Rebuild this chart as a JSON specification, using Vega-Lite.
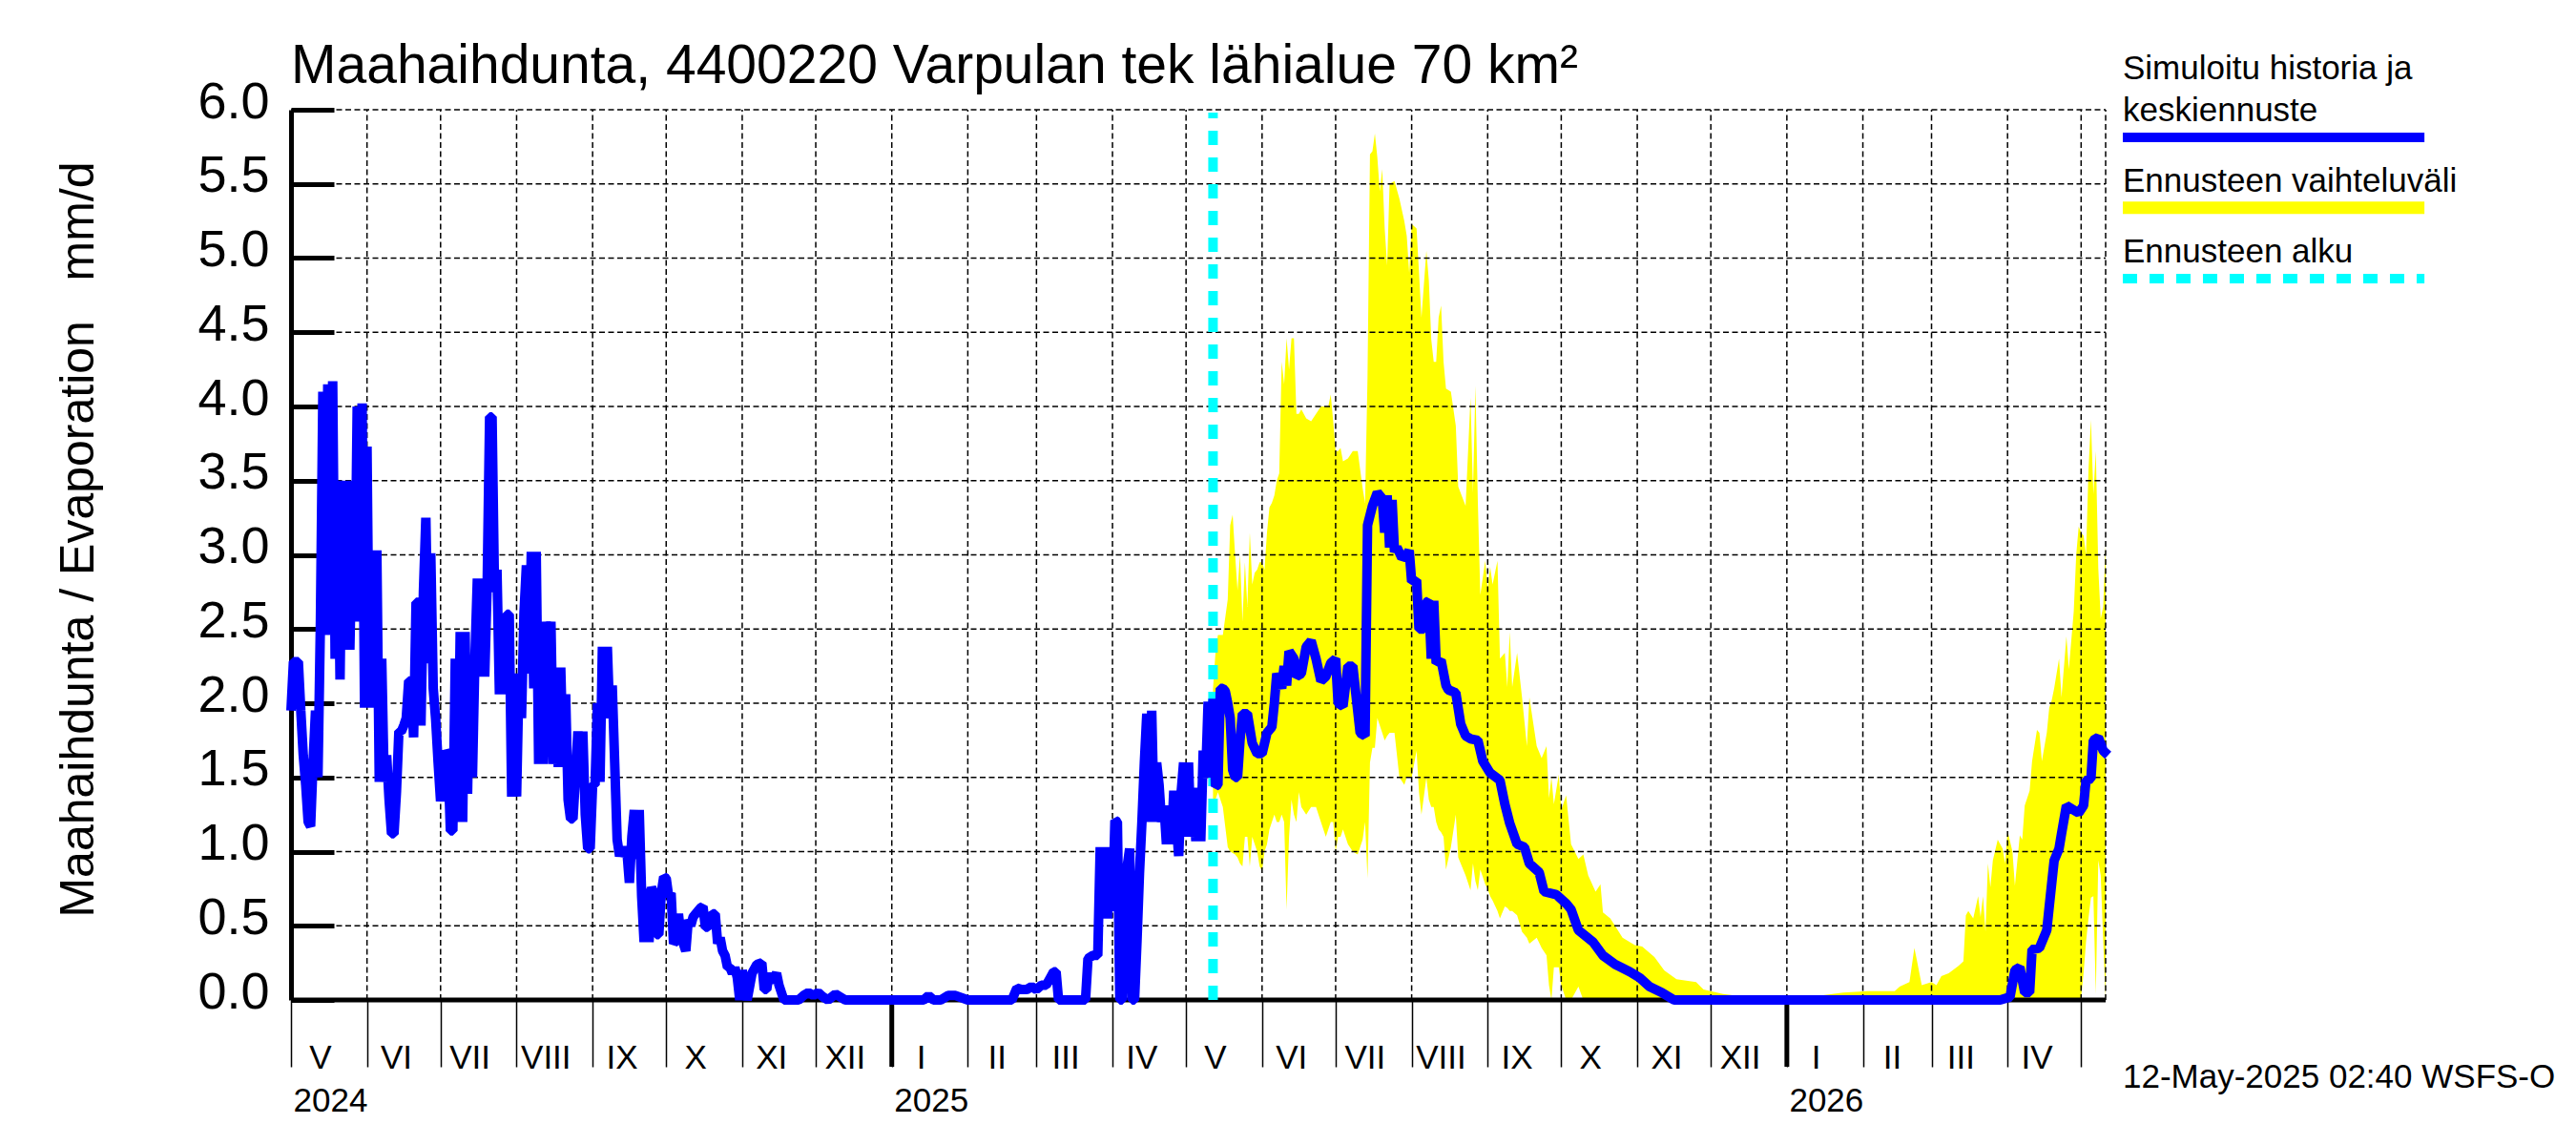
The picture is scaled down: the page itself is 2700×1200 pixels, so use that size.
{
  "$schema": "https://vega.github.io/schema/vega-lite/v6.json",
  "description": "Maahaihdunta, simulated history and forecast band with forecast start marker.",
  "width": 1902,
  "height": 933,
  "padding": {"left": 305, "top": 115, "right": 493, "bottom": 152},
  "autosize": {"type": "none"},
  "background": "white",
  "title": {
    "text": "Maahaihdunta, 4400220 Varpulan tek lähialue 70 km²",
    "anchor": "start",
    "frame": "group",
    "font": "Liberation Sans",
    "fontSize": 57,
    "fontWeight": "normal",
    "color": "black",
    "offset": -44
  },
  "config": {
    "view": {"stroke": null},
    "text": {"font": "Liberation Sans", "color": "black"}
  },
  "datasets": {
    "sim": [
      {"d":"2024-05-01","v":1.95},{"d":"2024-05-02","v":2.28},{"d":"2024-05-04","v":2.28},{"d":"2024-05-05","v":1.95},{"d":"2024-05-06","v":1.65},{"d":"2024-05-07","v":1.45},{"d":"2024-05-08","v":1.2},{"d":"2024-05-09","v":1.17},{"d":"2024-05-10","v":1.6},{"d":"2024-05-11","v":1.95},{"d":"2024-05-12","v":1.5},{"d":"2024-05-13","v":2.55},{"d":"2024-05-14","v":4.1},{"d":"2024-05-15","v":2.46},{"d":"2024-05-16","v":4.15},{"d":"2024-05-17","v":3.05},{"d":"2024-05-18","v":4.17},{"d":"2024-05-19","v":2.3},{"d":"2024-05-20","v":3.5},{"d":"2024-05-21","v":2.16},{"d":"2024-05-22","v":3.5},{"d":"2024-05-23","v":2.4},{"d":"2024-05-24","v":3.5},{"d":"2024-05-25","v":2.36},{"d":"2024-05-26","v":3.2},{"d":"2024-05-27","v":2.55},{"d":"2024-05-28","v":4.0},{"d":"2024-05-29","v":3.0},{"d":"2024-05-30","v":4.02},{"d":"2024-05-31","v":1.97},{"d":"2024-06-01","v":3.73},{"d":"2024-06-02","v":1.97},{"d":"2024-06-03","v":3.0},{"d":"2024-06-04","v":2.0},{"d":"2024-06-05","v":3.03},{"d":"2024-06-06","v":1.47},{"d":"2024-06-07","v":2.3},{"d":"2024-06-08","v":1.47},{"d":"2024-06-09","v":1.65},{"d":"2024-06-10","v":1.35},{"d":"2024-06-11","v":1.12},{"d":"2024-06-12","v":1.12},{"d":"2024-06-13","v":1.4},{"d":"2024-06-14","v":1.81},{"d":"2024-06-15","v":1.81},{"d":"2024-06-16","v":1.85},{"d":"2024-06-17","v":1.9},{"d":"2024-06-18","v":2.15},{"d":"2024-06-19","v":2.15},{"d":"2024-06-20","v":1.77},{"d":"2024-06-21","v":2.68},{"d":"2024-06-22","v":2.68},{"d":"2024-06-23","v":1.85},{"d":"2024-06-24","v":2.75},{"d":"2024-06-25","v":3.25},{"d":"2024-06-26","v":2.27},{"d":"2024-06-27","v":3.01},{"d":"2024-06-28","v":2.1},{"d":"2024-06-29","v":1.89},{"d":"2024-06-30","v":1.6},{"d":"2024-07-01","v":1.34},{"d":"2024-07-02","v":1.45},{"d":"2024-07-03","v":1.68},{"d":"2024-07-04","v":1.65},{"d":"2024-07-05","v":1.14},{"d":"2024-07-06","v":1.14},{"d":"2024-07-07","v":2.3},{"d":"2024-07-08","v":1.2},{"d":"2024-07-09","v":2.48},{"d":"2024-07-10","v":1.2},{"d":"2024-07-11","v":2.48},{"d":"2024-07-12","v":1.39},{"d":"2024-07-13","v":2.3},{"d":"2024-07-14","v":1.5},{"d":"2024-07-15","v":2.3},{"d":"2024-07-16","v":2.84},{"d":"2024-07-17","v":2.18},{"d":"2024-07-18","v":2.84},{"d":"2024-07-19","v":2.18},{"d":"2024-07-20","v":2.8},{"d":"2024-07-21","v":3.93},{"d":"2024-07-22","v":3.93},{"d":"2024-07-23","v":2.75},{"d":"2024-07-24","v":2.9},{"d":"2024-07-25","v":2.06},{"d":"2024-07-26","v":2.5},{"d":"2024-07-27","v":2.06},{"d":"2024-07-28","v":2.6},{"d":"2024-07-29","v":2.6},{"d":"2024-07-30","v":1.37},{"d":"2024-07-31","v":2.2},{"d":"2024-08-01","v":1.37},{"d":"2024-08-02","v":2.2},{"d":"2024-08-03","v":1.9},{"d":"2024-08-04","v":2.6},{"d":"2024-08-05","v":2.93},{"d":"2024-08-06","v":2.2},{"d":"2024-08-07","v":3.02},{"d":"2024-08-08","v":2.1},{"d":"2024-08-09","v":3.02},{"d":"2024-08-10","v":1.59},{"d":"2024-08-11","v":2.5},{"d":"2024-08-12","v":1.59},{"d":"2024-08-13","v":2.55},{"d":"2024-08-14","v":2.2},{"d":"2024-08-15","v":2.55},{"d":"2024-08-16","v":1.59},{"d":"2024-08-17","v":2.24},{"d":"2024-08-18","v":1.57},{"d":"2024-08-19","v":2.24},{"d":"2024-08-20","v":1.6},{"d":"2024-08-21","v":2.06},{"d":"2024-08-22","v":1.35},{"d":"2024-08-23","v":1.22},{"d":"2024-08-24","v":1.22},{"d":"2024-08-25","v":1.5},{"d":"2024-08-26","v":1.81},{"d":"2024-08-27","v":1.5},{"d":"2024-08-28","v":1.81},{"d":"2024-08-29","v":1.25},{"d":"2024-08-30","v":1.02},{"d":"2024-08-31","v":1.02},{"d":"2024-09-01","v":1.45},{"d":"2024-09-02","v":1.45},{"d":"2024-09-03","v":2.0},{"d":"2024-09-04","v":1.47},{"d":"2024-09-05","v":2.38},{"d":"2024-09-06","v":1.9},{"d":"2024-09-07","v":2.38},{"d":"2024-09-08","v":1.9},{"d":"2024-09-09","v":2.12},{"d":"2024-09-10","v":1.6},{"d":"2024-09-11","v":1.08},{"d":"2024-09-12","v":0.97},{"d":"2024-09-13","v":1.03},{"d":"2024-09-14","v":0.97},{"d":"2024-09-15","v":1.0},{"d":"2024-09-16","v":0.79},{"d":"2024-09-17","v":1.1},{"d":"2024-09-18","v":1.28},{"d":"2024-09-19","v":0.95},{"d":"2024-09-20","v":1.28},{"d":"2024-09-21","v":0.7},{"d":"2024-09-22","v":0.39},{"d":"2024-09-23","v":0.75},{"d":"2024-09-24","v":0.39},{"d":"2024-09-25","v":0.76},{"d":"2024-09-26","v":0.72},{"d":"2024-09-27","v":0.44},{"d":"2024-09-28","v":0.44},{"d":"2024-09-29","v":0.72},{"d":"2024-09-30","v":0.83},{"d":"2024-10-01","v":0.82},{"d":"2024-10-02","v":0.7},{"d":"2024-10-03","v":0.72},{"d":"2024-10-04","v":0.38},{"d":"2024-10-05","v":0.4},{"d":"2024-10-06","v":0.58},{"d":"2024-10-07","v":0.42},{"d":"2024-10-08","v":0.38},{"d":"2024-10-09","v":0.33},{"d":"2024-10-10","v":0.54},{"d":"2024-10-11","v":0.5},{"d":"2024-10-12","v":0.56},{"d":"2024-10-14","v":0.6},{"d":"2024-10-15","v":0.62},{"d":"2024-10-16","v":0.63},{"d":"2024-10-17","v":0.49},{"d":"2024-10-18","v":0.49},{"d":"2024-10-19","v":0.55},{"d":"2024-10-20","v":0.58},{"d":"2024-10-21","v":0.58},{"d":"2024-10-22","v":0.38},{"d":"2024-10-23","v":0.42},{"d":"2024-10-24","v":0.33},{"d":"2024-10-25","v":0.3},{"d":"2024-10-26","v":0.22},{"d":"2024-10-27","v":0.22},{"d":"2024-10-28","v":0.18},{"d":"2024-10-29","v":0.22},{"d":"2024-10-30","v":0.15},{"d":"2024-10-31","v":0},{"d":"2024-11-01","v":0.2},{"d":"2024-11-03","v":0},{"d":"2024-11-05","v":0.18},{"d":"2024-11-07","v":0.24},{"d":"2024-11-09","v":0.25},{"d":"2024-11-10","v":0.07},{"d":"2024-11-11","v":0.07},{"d":"2024-11-12","v":0.18},{"d":"2024-11-13","v":0.12},{"d":"2024-11-15","v":0.18},{"d":"2024-11-16","v":0.1},{"d":"2024-11-18","v":0},{"d":"2024-11-24","v":0},{"d":"2024-11-26","v":0.03},{"d":"2024-11-28","v":0.05},{"d":"2024-11-30","v":0.03},{"d":"2024-12-02","v":0.05},{"d":"2024-12-04","v":0.02},{"d":"2024-12-06","v":0},{"d":"2024-12-09","v":0.04},{"d":"2024-12-13","v":0},{"d":"2025-01-14","v":0},{"d":"2025-01-16","v":0.03},{"d":"2025-01-18","v":0},{"d":"2025-01-21","v":0},{"d":"2025-01-24","v":0.03},{"d":"2025-01-27","v":0.03},{"d":"2025-02-01","v":0},{"d":"2025-02-19","v":0},{"d":"2025-02-21","v":0.08},{"d":"2025-02-23","v":0.07},{"d":"2025-02-25","v":0.07},{"d":"2025-02-27","v":0.09},{"d":"2025-03-01","v":0.07},{"d":"2025-03-03","v":0.1},{"d":"2025-03-05","v":0.1},{"d":"2025-03-07","v":0.16},{"d":"2025-03-08","v":0.19},{"d":"2025-03-09","v":0.19},{"d":"2025-03-10","v":0},{"d":"2025-03-21","v":0},{"d":"2025-03-22","v":0.28},{"d":"2025-03-24","v":0.3},{"d":"2025-03-26","v":0.3},{"d":"2025-03-27","v":1.03},{"d":"2025-03-28","v":0.55},{"d":"2025-03-29","v":1.03},{"d":"2025-03-30","v":0.55},{"d":"2025-03-31","v":1.0},{"d":"2025-04-01","v":0.6},{"d":"2025-04-02","v":1.21},{"d":"2025-04-03","v":1.2},{"d":"2025-04-04","v":0},{"d":"2025-04-05","v":0},{"d":"2025-04-06","v":0.8},{"d":"2025-04-07","v":0.9},{"d":"2025-04-08","v":1.02},{"d":"2025-04-09","v":0},{"d":"2025-04-10","v":0},{"d":"2025-04-11","v":0.4},{"d":"2025-04-12","v":0.85},{"d":"2025-04-13","v":1.2},{"d":"2025-04-14","v":1.6},{"d":"2025-04-15","v":1.93},{"d":"2025-04-16","v":1.2},{"d":"2025-04-17","v":1.95},{"d":"2025-04-18","v":1.2},{"d":"2025-04-19","v":1.6},{"d":"2025-04-20","v":1.45},{"d":"2025-04-21","v":1.2},{"d":"2025-04-22","v":1.31},{"d":"2025-04-23","v":1.05},{"d":"2025-04-24","v":1.3},{"d":"2025-04-25","v":1.05},{"d":"2025-04-26","v":1.41},{"d":"2025-04-27","v":1.2},{"d":"2025-04-28","v":0.97},{"d":"2025-04-29","v":1.4},{"d":"2025-04-30","v":1.6},{"d":"2025-05-01","v":1.1},{"d":"2025-05-02","v":1.6},{"d":"2025-05-03","v":1.1},{"d":"2025-05-04","v":1.43},{"d":"2025-05-05","v":1.07},{"d":"2025-05-06","v":1.43},{"d":"2025-05-07","v":1.07},{"d":"2025-05-08","v":1.68},{"d":"2025-05-09","v":1.5},{"d":"2025-05-10","v":2.01},{"d":"2025-05-11","v":1.57},{"d":"2025-05-12","v":2.03},{"d":"2025-05-13","v":1.44},{"d":"2025-05-14","v":1.45},{"d":"2025-05-15","v":2.1},{"d":"2025-05-16","v":2.1},{"d":"2025-05-17","v":2.08},{"d":"2025-05-18","v":2.0},{"d":"2025-05-19","v":1.9},{"d":"2025-05-20","v":1.55},{"d":"2025-05-21","v":1.5},{"d":"2025-05-22","v":1.5},{"d":"2025-05-23","v":1.75},{"d":"2025-05-24","v":1.93},{"d":"2025-05-26","v":1.93},{"d":"2025-05-28","v":1.73},{"d":"2025-05-30","v":1.66},{"d":"2025-06-01","v":1.66},{"d":"2025-06-03","v":1.8},{"d":"2025-06-05","v":1.84},{"d":"2025-06-06","v":2.0},{"d":"2025-06-07","v":2.2},{"d":"2025-06-09","v":2.1},{"d":"2025-06-10","v":2.25},{"d":"2025-06-11","v":2.12},{"d":"2025-06-12","v":2.35},{"d":"2025-06-14","v":2.3},{"d":"2025-06-15","v":2.18},{"d":"2025-06-17","v":2.2},{"d":"2025-06-19","v":2.38},{"d":"2025-06-21","v":2.42},{"d":"2025-06-23","v":2.3},{"d":"2025-06-25","v":2.15},{"d":"2025-06-27","v":2.18},{"d":"2025-06-29","v":2.27},{"d":"2025-07-01","v":2.3},{"d":"2025-07-02","v":2.0},{"d":"2025-07-04","v":1.98},{"d":"2025-07-06","v":2.25},{"d":"2025-07-08","v":2.25},{"d":"2025-07-09","v":2.1},{"d":"2025-07-11","v":1.8},{"d":"2025-07-13","v":1.78},{"d":"2025-07-14","v":3.2},{"d":"2025-07-16","v":3.33},{"d":"2025-07-18","v":3.42},{"d":"2025-07-20","v":3.38},{"d":"2025-07-21","v":3.15},{"d":"2025-07-22","v":3.4},{"d":"2025-07-23","v":3.05},{"d":"2025-07-24","v":3.37},{"d":"2025-07-25","v":3.02},{"d":"2025-07-26","v":3.05},{"d":"2025-07-28","v":2.98},{"d":"2025-07-30","v":3.0},{"d":"2025-07-31","v":3.03},{"d":"2025-08-01","v":2.82},{"d":"2025-08-03","v":2.83},{"d":"2025-08-04","v":2.5},{"d":"2025-08-06","v":2.5},{"d":"2025-08-07","v":2.68},{"d":"2025-08-08","v":2.69},{"d":"2025-08-09","v":2.3},{"d":"2025-08-10","v":2.69},{"d":"2025-08-11","v":2.27},{"d":"2025-08-13","v":2.29},{"d":"2025-08-15","v":2.12},{"d":"2025-08-16","v":2.09},{"d":"2025-08-19","v":2.07},{"d":"2025-08-21","v":1.86},{"d":"2025-08-23","v":1.78},{"d":"2025-08-25","v":1.76},{"d":"2025-08-28","v":1.75},{"d":"2025-08-30","v":1.61},{"d":"2025-09-02","v":1.53},{"d":"2025-09-06","v":1.48},{"d":"2025-09-08","v":1.32},{"d":"2025-09-10","v":1.19},{"d":"2025-09-13","v":1.05},{"d":"2025-09-16","v":1.03},{"d":"2025-09-18","v":0.92},{"d":"2025-09-22","v":0.86},{"d":"2025-09-24","v":0.73},{"d":"2025-09-29","v":0.71},{"d":"2025-10-03","v":0.65},{"d":"2025-10-05","v":0.61},{"d":"2025-10-08","v":0.47},{"d":"2025-10-14","v":0.39},{"d":"2025-10-18","v":0.3},{"d":"2025-10-23","v":0.24},{"d":"2025-10-29","v":0.19},{"d":"2025-11-02","v":0.15},{"d":"2025-11-06","v":0.09},{"d":"2025-11-11","v":0.05},{"d":"2025-11-16","v":0},{"d":"2025-12-15","v":0},{"d":"2026-01-15","v":0},{"d":"2026-02-15","v":0},{"d":"2026-03-29","v":0},{"d":"2026-04-02","v":0.02},{"d":"2026-04-04","v":0.2},{"d":"2026-04-06","v":0.22},{"d":"2026-04-08","v":0.05},{"d":"2026-04-10","v":0.05},{"d":"2026-04-11","v":0.34},{"d":"2026-04-14","v":0.35},{"d":"2026-04-17","v":0.47},{"d":"2026-04-18","v":0.63},{"d":"2026-04-20","v":0.94},{"d":"2026-04-22","v":1.02},{"d":"2026-04-23","v":1.12},{"d":"2026-04-25","v":1.31},{"d":"2026-04-28","v":1.28},{"d":"2026-04-30","v":1.26},{"d":"2026-05-02","v":1.31},{"d":"2026-05-03","v":1.48},{"d":"2026-05-05","v":1.49},{"d":"2026-05-06","v":1.75},{"d":"2026-05-08","v":1.77},{"d":"2026-05-10","v":1.68},{"d":"2026-05-12","v":1.65}
    ],
    "band": [
      {"d":"2025-05-12","hi":2.1,"lo":1.3},{"d":"2025-05-13","hi":2.34,"lo":1.35},{"d":"2025-05-14","hi":2.46,"lo":1.4},{"d":"2025-05-16","hi":2.46,"lo":1.3},{"d":"2025-05-18","hi":2.7,"lo":1.03},{"d":"2025-05-19","hi":3.2,"lo":1.0},{"d":"2025-05-20","hi":3.27,"lo":0.99},{"d":"2025-05-21","hi":3.0,"lo":0.98},{"d":"2025-05-22","hi":2.76,"lo":0.96},{"d":"2025-05-23","hi":3.0,"lo":0.92},{"d":"2025-05-24","hi":2.55,"lo":0.9},{"d":"2025-05-25","hi":2.95,"lo":1.1},{"d":"2025-05-26","hi":2.65,"lo":1.1},{"d":"2025-05-27","hi":3.15,"lo":0.9},{"d":"2025-05-28","hi":2.8,"lo":1.1},{"d":"2025-05-29","hi":2.88,"lo":1.05},{"d":"2025-05-30","hi":2.9,"lo":1.0},{"d":"2025-05-31","hi":2.95,"lo":0.9},{"d":"2025-06-01","hi":2.95,"lo":0.87},{"d":"2025-06-02","hi":2.9,"lo":1.0},{"d":"2025-06-03","hi":3.15,"lo":1.05},{"d":"2025-06-04","hi":3.32,"lo":1.15},{"d":"2025-06-05","hi":3.35,"lo":1.2},{"d":"2025-06-06","hi":3.4,"lo":1.25},{"d":"2025-06-07","hi":3.5,"lo":1.2},{"d":"2025-06-08","hi":3.55,"lo":1.2},{"d":"2025-06-09","hi":4.3,"lo":1.25},{"d":"2025-06-10","hi":4.15,"lo":1.2},{"d":"2025-06-11","hi":4.46,"lo":0.61},{"d":"2025-06-12","hi":4.25,"lo":1.1},{"d":"2025-06-13","hi":4.46,"lo":1.35},{"d":"2025-06-14","hi":4.46,"lo":1.25},{"d":"2025-06-15","hi":3.95,"lo":1.2},{"d":"2025-06-16","hi":3.95,"lo":1.4},{"d":"2025-06-17","hi":3.98,"lo":1.3},{"d":"2025-06-19","hi":3.92,"lo":1.25},{"d":"2025-06-21","hi":3.9,"lo":1.3},{"d":"2025-06-23","hi":3.95,"lo":1.3},{"d":"2025-06-25","hi":4.0,"lo":1.2},{"d":"2025-06-27","hi":4.0,"lo":1.1},{"d":"2025-06-28","hi":4.0,"lo":1.15},{"d":"2025-06-29","hi":4.08,"lo":1.2},{"d":"2025-06-30","hi":3.9,"lo":1.2},{"d":"2025-07-01","hi":3.7,"lo":1.0},{"d":"2025-07-02","hi":3.7,"lo":1.1},{"d":"2025-07-03","hi":3.72,"lo":1.1},{"d":"2025-07-04","hi":3.63,"lo":1.15},{"d":"2025-07-06","hi":3.65,"lo":1.05},{"d":"2025-07-08","hi":3.7,"lo":1.0},{"d":"2025-07-10","hi":3.7,"lo":0.98},{"d":"2025-07-12","hi":3.45,"lo":1.08},{"d":"2025-07-13","hi":3.35,"lo":1.2},{"d":"2025-07-14","hi":4.2,"lo":0.82},{"d":"2025-07-15","hi":5.7,"lo":1.6},{"d":"2025-07-16","hi":5.72,"lo":1.7},{"d":"2025-07-17","hi":5.84,"lo":1.7},{"d":"2025-07-18","hi":5.68,"lo":1.9},{"d":"2025-07-19","hi":5.45,"lo":1.85},{"d":"2025-07-20","hi":5.6,"lo":1.8},{"d":"2025-07-21","hi":5.2,"lo":1.75},{"d":"2025-07-22","hi":4.95,"lo":1.78},{"d":"2025-07-23","hi":5.5,"lo":1.8},{"d":"2025-07-25","hi":5.52,"lo":1.8},{"d":"2025-07-27","hi":5.4,"lo":1.5},{"d":"2025-07-29","hi":5.25,"lo":1.45},{"d":"2025-07-30","hi":5.15,"lo":1.5},{"d":"2025-07-31","hi":4.9,"lo":1.5},{"d":"2025-08-01","hi":5.23,"lo":1.5},{"d":"2025-08-03","hi":5.2,"lo":1.68},{"d":"2025-08-04","hi":4.9,"lo":1.4},{"d":"2025-08-05","hi":4.6,"lo":1.25},{"d":"2025-08-07","hi":5.05,"lo":1.5},{"d":"2025-08-08","hi":4.85,"lo":1.35},{"d":"2025-08-09","hi":4.45,"lo":1.3},{"d":"2025-08-10","hi":4.3,"lo":1.3},{"d":"2025-08-11","hi":4.3,"lo":1.2},{"d":"2025-08-12","hi":4.6,"lo":1.15},{"d":"2025-08-13","hi":4.68,"lo":1.13},{"d":"2025-08-14","hi":4.3,"lo":1.1},{"d":"2025-08-15","hi":4.12,"lo":0.88},{"d":"2025-08-17","hi":4.1,"lo":1.03},{"d":"2025-08-19","hi":3.87,"lo":1.25},{"d":"2025-08-20","hi":3.46,"lo":0.96},{"d":"2025-08-23","hi":3.33,"lo":0.84},{"d":"2025-08-25","hi":4.06,"lo":0.74},{"d":"2025-08-26","hi":3.42,"lo":0.92},{"d":"2025-08-27","hi":4.14,"lo":0.8},{"d":"2025-08-28","hi":3.35,"lo":0.74},{"d":"2025-08-29","hi":2.73,"lo":0.88},{"d":"2025-08-31","hi":2.96,"lo":0.78},{"d":"2025-09-01","hi":2.77,"lo":0.75},{"d":"2025-09-02","hi":2.92,"lo":0.7},{"d":"2025-09-03","hi":2.8,"lo":0.67},{"d":"2025-09-05","hi":2.96,"lo":0.6},{"d":"2025-09-06","hi":2.3,"lo":0.55},{"d":"2025-09-08","hi":2.34,"lo":0.63},{"d":"2025-09-09","hi":2.11,"lo":0.62},{"d":"2025-09-10","hi":2.48,"lo":0.6},{"d":"2025-09-11","hi":2.11,"lo":0.6},{"d":"2025-09-13","hi":2.34,"lo":0.57},{"d":"2025-09-15","hi":2.04,"lo":0.46},{"d":"2025-09-17","hi":1.71,"lo":0.42},{"d":"2025-09-18","hi":2.04,"lo":0.38},{"d":"2025-09-21","hi":1.71,"lo":0.42},{"d":"2025-09-23","hi":1.63,"lo":0.35},{"d":"2025-09-25","hi":1.71,"lo":0.3},{"d":"2025-09-26","hi":1.36,"lo":0.1},{"d":"2025-09-27","hi":1.5,"lo":0},{"d":"2025-09-28","hi":1.32,"lo":0.22},{"d":"2025-09-30","hi":1.52,"lo":0.22},{"d":"2025-10-01","hi":1.28,"lo":0.1},{"d":"2025-10-03","hi":1.38,"lo":0},{"d":"2025-10-05","hi":1.05,"lo":0},{"d":"2025-10-08","hi":0.95,"lo":0.09},{"d":"2025-10-10","hi":0.98,"lo":0},{"d":"2025-10-12","hi":0.84,"lo":0},{"d":"2025-10-15","hi":0.73,"lo":0},{"d":"2025-10-17","hi":0.78,"lo":0},{"d":"2025-10-18","hi":0.59,"lo":0},{"d":"2025-10-21","hi":0.55,"lo":0},{"d":"2025-10-26","hi":0.42,"lo":0},{"d":"2025-10-31","hi":0.37,"lo":0},{"d":"2025-11-03","hi":0.36,"lo":0},{"d":"2025-11-08","hi":0.29,"lo":0},{"d":"2025-11-12","hi":0.2,"lo":0},{"d":"2025-11-17","hi":0.14,"lo":0},{"d":"2025-11-25","hi":0.12,"lo":0},{"d":"2025-11-28","hi":0.07,"lo":0},{"d":"2025-12-06","hi":0.04,"lo":0},{"d":"2025-12-20","hi":0.01,"lo":0},{"d":"2026-01-10","hi":0.02,"lo":0},{"d":"2026-01-24","hi":0.05,"lo":0},{"d":"2026-02-03","hi":0.06,"lo":0},{"d":"2026-02-14","hi":0.06,"lo":0},{"d":"2026-02-16","hi":0.09,"lo":0},{"d":"2026-02-20","hi":0.12,"lo":0},{"d":"2026-02-22","hi":0.35,"lo":0},{"d":"2026-02-23","hi":0.27,"lo":0},{"d":"2026-02-25","hi":0.1,"lo":0},{"d":"2026-03-01","hi":0.12,"lo":0},{"d":"2026-03-03","hi":0.1,"lo":0},{"d":"2026-03-05","hi":0.16,"lo":0},{"d":"2026-03-08","hi":0.18,"lo":0},{"d":"2026-03-12","hi":0.23,"lo":0},{"d":"2026-03-14","hi":0.26,"lo":0},{"d":"2026-03-15","hi":0.57,"lo":0},{"d":"2026-03-16","hi":0.6,"lo":0},{"d":"2026-03-18","hi":0.55,"lo":0},{"d":"2026-03-20","hi":0.7,"lo":0},{"d":"2026-03-21","hi":0.56,"lo":0},{"d":"2026-03-22","hi":0.7,"lo":0},{"d":"2026-03-23","hi":0.46,"lo":0},{"d":"2026-03-24","hi":0.92,"lo":0},{"d":"2026-03-25","hi":0.76,"lo":0},{"d":"2026-03-26","hi":0.94,"lo":0},{"d":"2026-03-28","hi":1.08,"lo":0},{"d":"2026-03-30","hi":1.02,"lo":0},{"d":"2026-03-31","hi":0.92,"lo":0},{"d":"2026-04-01","hi":1.14,"lo":0},{"d":"2026-04-03","hi":1.0,"lo":0},{"d":"2026-04-04","hi":0.77,"lo":0},{"d":"2026-04-06","hi":1.11,"lo":0},{"d":"2026-04-07","hi":1.08,"lo":0},{"d":"2026-04-08","hi":1.31,"lo":0},{"d":"2026-04-10","hi":1.41,"lo":0},{"d":"2026-04-11","hi":1.61,"lo":0},{"d":"2026-04-13","hi":1.82,"lo":0},{"d":"2026-04-14","hi":1.8,"lo":0},{"d":"2026-04-15","hi":1.61,"lo":0},{"d":"2026-04-17","hi":1.8,"lo":0},{"d":"2026-04-18","hi":1.97,"lo":0},{"d":"2026-04-19","hi":2.02,"lo":0},{"d":"2026-04-20","hi":2.1,"lo":0},{"d":"2026-04-22","hi":2.3,"lo":0},{"d":"2026-04-23","hi":2.04,"lo":0},{"d":"2026-04-25","hi":2.45,"lo":0},{"d":"2026-04-26","hi":2.23,"lo":0},{"d":"2026-04-28","hi":2.62,"lo":0},{"d":"2026-04-29","hi":3.0,"lo":0},{"d":"2026-04-30","hi":3.19,"lo":0},{"d":"2026-05-01","hi":3.15,"lo":0.02},{"d":"2026-05-02","hi":3.13,"lo":0.18},{"d":"2026-05-03","hi":3.0,"lo":0.39},{"d":"2026-05-04","hi":3.57,"lo":0.55},{"d":"2026-05-05","hi":3.91,"lo":0.69},{"d":"2026-05-06","hi":3.41,"lo":0.7},{"d":"2026-05-07","hi":3.7,"lo":0.04},{"d":"2026-05-08","hi":2.91,"lo":0.94},{"d":"2026-05-09","hi":2.57,"lo":0.84},{"d":"2026-05-10","hi":2.65,"lo":0.4},{"d":"2026-05-11","hi":3.07,"lo":0.01}
    ],
    "monthStarts": [
      {"d":"2024-06-01"},{"d":"2024-07-01"},{"d":"2024-08-01"},{"d":"2024-09-01"},{"d":"2024-10-01"},{"d":"2024-11-01"},{"d":"2024-12-01"},{"d":"2025-01-01"},{"d":"2025-02-01"},{"d":"2025-03-01"},{"d":"2025-04-01"},{"d":"2025-05-01"},{"d":"2025-06-01"},{"d":"2025-07-01"},{"d":"2025-08-01"},{"d":"2025-09-01"},{"d":"2025-10-01"},{"d":"2025-11-01"},{"d":"2025-12-01"},{"d":"2026-01-01"},{"d":"2026-02-01"},{"d":"2026-03-01"},{"d":"2026-04-01"},{"d":"2026-05-01"},{"d":"2026-05-11"}
    ],
    "levels": [
      {"d":"2024-05-01","d2":"2026-05-11","y":0.5},{"d":"2024-05-01","d2":"2026-05-11","y":1.0},{"d":"2024-05-01","d2":"2026-05-11","y":1.5},{"d":"2024-05-01","d2":"2026-05-11","y":2.0},{"d":"2024-05-01","d2":"2026-05-11","y":2.5},{"d":"2024-05-01","d2":"2026-05-11","y":3.0},{"d":"2024-05-01","d2":"2026-05-11","y":3.5},{"d":"2024-05-01","d2":"2026-05-11","y":4.0},{"d":"2024-05-01","d2":"2026-05-11","y":4.5},{"d":"2024-05-01","d2":"2026-05-11","y":5.0},{"d":"2024-05-01","d2":"2026-05-11","y":5.5},{"d":"2024-05-01","d2":"2026-05-11","y":6.0}
    ],
    "zeroLine": [{"d":"2024-05-01","d2":"2026-05-11","y":0}],
    "forecastStart": [{"d":"2025-05-12","base":0,"top":5.98}],
    "stamp": [{"d":"2026-05-18","t":"12-May-2025 02:40 WSFS-O"}],
    "months": [
      {"d":"2024-05-13","m":"V"},{"d":"2024-06-13","m":"VI"},{"d":"2024-07-13","m":"VII"},{"d":"2024-08-13","m":"VIII"},{"d":"2024-09-13","m":"IX"},{"d":"2024-10-13","m":"X"},{"d":"2024-11-13","m":"XI"},{"d":"2024-12-13","m":"XII"},{"d":"2025-01-13","m":"I"},{"d":"2025-02-13","m":"II"},{"d":"2025-03-13","m":"III"},{"d":"2025-04-13","m":"IV"},{"d":"2025-05-13","m":"V"},{"d":"2025-06-13","m":"VI"},{"d":"2025-07-13","m":"VII"},{"d":"2025-08-13","m":"VIII"},{"d":"2025-09-13","m":"IX"},{"d":"2025-10-13","m":"X"},{"d":"2025-11-13","m":"XI"},{"d":"2025-12-13","m":"XII"},{"d":"2026-01-13","m":"I"},{"d":"2026-02-13","m":"II"},{"d":"2026-03-13","m":"III"},{"d":"2026-04-13","m":"IV"}
    ],
    "years": [
      {"d":"2024-05-02","t":"2024"},{"d":"2025-01-02","t":"2025"},{"d":"2026-01-02","t":"2026"}
    ],
    "yearStarts": [{"d":"2025-01-01"},{"d":"2026-01-01"}],
    "legendLabels": [
      {"d":"2026-05-18","y":6.206,"t":"Simuloitu historia ja"},
      {"d":"2026-05-18","y":5.923,"t":"keskiennuste"},
      {"d":"2026-05-18","y":5.447,"t":"Ennusteen vaihteluväli"},
      {"d":"2026-05-18","y":4.971,"t":"Ennusteen alku"}
    ],
    "legendSim": [{"d":"2026-05-18","d2":"2026-09-18","y":5.813}],
    "legendBand": [{"d":"2026-05-18","d2":"2026-09-18","y":5.34}],
    "legendStart": [{"d":"2026-05-18","d2":"2026-09-18","y":4.862}]
  },
  "encoding": {
    "x": {
      "field": "d",
      "type": "temporal",
      "scale": {"type": "utc", "domain": ["2024-05-01", "2026-05-11"]},
      "axis": {
        "title": null,
        "labels": false,
        "grid": false,
        "domain": false,
        "tickCount": {"interval": "month", "step": 1},
        "tickSize": 70,
        "tickWidth": 1.5,
        "tickColor": "black"
      }
    }
  },
  "layer": [
    {
      "data": {"name": "band"},
      "mark": {"type": "area", "color": "#ffff00", "clip": false},
      "encoding": {
        "y": {
          "field": "hi",
          "type": "quantitative",
          "scale": {"domain": [0, 6], "nice": false},
          "axis": {
            "title": "Maahaihdunta / Evaporation\u00a0\u00a0\u00a0mm/d",
            "titleFont": "Liberation Sans",
            "titleFontSize": 50,
            "titleFontWeight": "normal",
            "titleColor": "black",
            "titleX": -198,
            "titleY": 450,
            "values": [0, 0.5, 1, 1.5, 2, 2.5, 3, 3.5, 4, 4.5, 5, 5.5, 6],
            "format": ".1f",
            "grid": false,
            "domainWidth": 5,
            "domainColor": "black",
            "tickSize": -45,
            "tickWidth": 5,
            "tickColor": "black",
            "labelFont": "Liberation Sans",
            "labelFontSize": 54,
            "labelColor": "black",
            "labelPadding": 68,
            "labelOffset": -8
          }
        },
        "y2": {"field": "lo"}
      }
    },
    {
      "data": {"name": "levels"},
      "mark": {"type": "rule", "color": "black", "strokeWidth": 1.5, "strokeDash": [6, 3.5]},
      "encoding": {
        "x": {"field": "d", "type": "temporal"},
        "x2": {"field": "d2"},
        "y": {"field": "y", "type": "quantitative"}
      }
    },
    {
      "data": {"name": "monthStarts"},
      "mark": {"type": "rule", "color": "black", "strokeWidth": 1.5, "strokeDash": [6, 3.5]},
      "encoding": {"y": {"datum": 0}, "y2": {"datum": 6}}
    },
    {
      "data": {"name": "yearStarts"},
      "mark": {"type": "rule", "color": "black", "strokeWidth": 5},
      "encoding": {"y": {"datum": 0}, "y2": {"datum": -0.45}}
    },
    {
      "data": {"name": "zeroLine"},
      "mark": {"type": "rule", "color": "black", "strokeWidth": 5},
      "encoding": {
        "x": {"field": "d", "type": "temporal"},
        "x2": {"field": "d2"},
        "y": {"field": "y", "type": "quantitative"}
      }
    },
    {
      "data": {"name": "forecastStart"},
      "mark": {"type": "rule", "color": "#00ffff", "strokeWidth": 10, "strokeDash": [15, 13]},
      "encoding": {
        "y": {"field": "base", "type": "quantitative"},
        "y2": {"field": "top"}
      }
    },
    {
      "data": {"name": "sim"},
      "mark": {"type": "line", "color": "#0000ff", "strokeWidth": 10, "strokeJoin": "bevel", "clip": false},
      "encoding": {"y": {"field": "v", "type": "quantitative"}}
    },
    {
      "data": {"name": "months"},
      "mark": {"type": "text", "fontSize": 35, "align": "center", "baseline": "alphabetic"},
      "encoding": {"y": {"datum": -0.463}, "text": {"field": "m"}}
    },
    {
      "data": {"name": "years"},
      "mark": {"type": "text", "fontSize": 35, "align": "left", "baseline": "alphabetic"},
      "encoding": {"y": {"datum": -0.752}, "text": {"field": "t"}}
    },
    {
      "data": {"name": "legendLabels"},
      "mark": {"type": "text", "fontSize": 35, "align": "left", "baseline": "alphabetic"},
      "encoding": {"y": {"field": "y", "type": "quantitative"}, "text": {"field": "t"}}
    },
    {
      "data": {"name": "legendSim"},
      "mark": {"type": "rule", "color": "#0000ff", "strokeWidth": 10},
      "encoding": {
        "x": {"field": "d", "type": "temporal"},
        "x2": {"field": "d2"},
        "y": {"field": "y", "type": "quantitative"}
      }
    },
    {
      "data": {"name": "legendBand"},
      "mark": {"type": "rule", "color": "#ffff00", "strokeWidth": 13},
      "encoding": {
        "x": {"field": "d", "type": "temporal"},
        "x2": {"field": "d2"},
        "y": {"field": "y", "type": "quantitative"}
      }
    },
    {
      "data": {"name": "legendStart"},
      "mark": {"type": "rule", "color": "#00ffff", "strokeWidth": 10, "strokeDash": [15, 13]},
      "encoding": {
        "x": {"field": "d", "type": "temporal"},
        "x2": {"field": "d2"},
        "y": {"field": "y", "type": "quantitative"}
      }
    },
    {
      "data": {"name": "stamp"},
      "mark": {"type": "text", "fontSize": 35, "align": "left", "baseline": "alphabetic"},
      "encoding": {"y": {"datum": -0.592}, "text": {"field": "t"}}
    }
  ]
}
